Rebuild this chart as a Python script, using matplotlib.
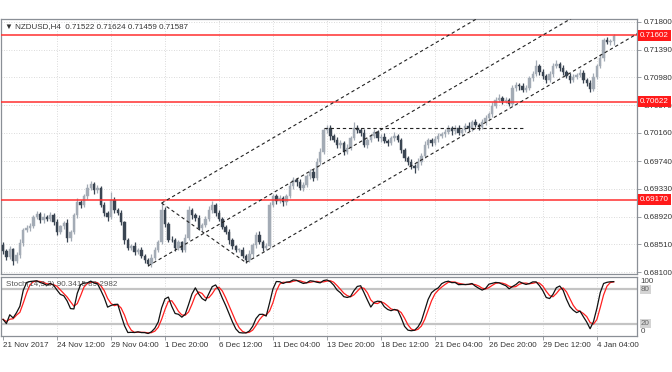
import numpy as np
import pandas as pd
import matplotlib
matplotlib.use("Agg")
import matplotlib.pyplot as plt
import matplotlib.transforms as mtransforms

plt.rcParams["font.family"] = ["Liberation Sans", "DejaVu Sans"]

# NZDUSD H4 closes (open = previous close)
closes = [
    0.6841, 0.6832, 0.6844, 0.6826, 0.6835, 0.6853, 0.6872, 0.6875, 0.6878, 0.6891,
    0.6896, 0.6887, 0.6892, 0.6889, 0.6895, 0.6884, 0.6869, 0.6878, 0.6882, 0.6860,
    0.6869, 0.6894, 0.6914, 0.6909, 0.6922, 0.6934, 0.6940, 0.6931, 0.6935, 0.6909,
    0.6897, 0.6891, 0.6917, 0.6902, 0.6897, 0.6884, 0.6857, 0.6846, 0.6849, 0.6840,
    0.6843, 0.6834, 0.6828, 0.6822, 0.6831, 0.6843, 0.6855, 0.6902, 0.6881, 0.6858,
    0.6857, 0.6846, 0.6854, 0.6843, 0.6860, 0.6902, 0.6894, 0.6890, 0.6875, 0.6880,
    0.6889, 0.6902, 0.6909, 0.6898, 0.6889, 0.6877, 0.6869, 0.6857, 0.6848, 0.6843,
    0.6843, 0.6834, 0.6828, 0.6837, 0.6850, 0.6865, 0.6855, 0.6846, 0.6849, 0.6909,
    0.6922, 0.6915, 0.6919, 0.6913, 0.6922, 0.6937, 0.6946, 0.6943, 0.6934, 0.6939,
    0.6952, 0.6958, 0.6949, 0.6973, 0.6988, 0.7020, 0.7023, 0.7011, 0.7005, 0.6998,
    0.7001, 0.6988, 0.6994, 0.7008, 0.7023, 0.7020, 0.7016, 0.6998, 0.7005, 0.7011,
    0.7017, 0.7008, 0.7010, 0.7004, 0.7001, 0.7008, 0.7011, 0.7005, 0.6991, 0.6979,
    0.6973, 0.6967, 0.6964, 0.6973, 0.6982, 0.6998, 0.7005, 0.7001, 0.7007, 0.7011,
    0.7014, 0.7017, 0.7023, 0.7018, 0.7023, 0.7016, 0.7020, 0.7026, 0.7023, 0.7032,
    0.7028, 0.7025, 0.7032, 0.7038, 0.7044, 0.7056, 0.7065, 0.7068, 0.7063, 0.7065,
    0.7059, 0.7082, 0.7087, 0.7085, 0.7080, 0.7083, 0.7097, 0.7103, 0.7115, 0.7106,
    0.7100, 0.7094, 0.7103, 0.7115, 0.7118, 0.7112, 0.7106, 0.7100, 0.7094, 0.7099,
    0.7102, 0.7105, 0.7094, 0.7090, 0.7081, 0.7099, 0.7115, 0.7127, 0.7153, 0.7150,
    0.71522, 0.71587,
]
first_open = 0.6850

# wick lengths in pips (above max(o,c) / below min(o,c))
upper_wick = [
    4, 3, 5, 2, 4, 6, 3, 4, 5, 3,
    4, 3, 5, 2, 4, 3, 5, 2, 4, 6,
    3, 4, 5, 3, 4, 6, 5, 3, 4, 2,
    5, 3, 11, 4, 3, 5, 2, 4, 3, 5,
    3, 4, 2, 3, 5, 4, 3, 10, 4, 3,
    5, 3, 4, 2, 6, 5, 3, 4, 5, 3,
    4, 5, 6, 3, 4, 2, 3, 4, 3, 2,
    3, 4, 2, 5, 3, 4, 6, 3, 4, 5,
    4, 3, 5, 4, 3, 6, 4, 3, 5, 4,
    3, 5, 4, 6, 5, 3, 5, 4, 3, 5,
    4, 3, 5, 4, 9, 4, 3, 5, 4, 3,
    5, 3, 4, 5, 3, 4, 6, 3, 4, 3,
    3, 4, 3, 5, 4, 6, 4, 3, 5, 4,
    3, 5, 4, 3, 5, 4, 3, 4, 6, 3,
    4, 3, 5, 4, 3, 5, 4, 6, 3, 4,
    3, 5, 4, 3, 5, 4, 3, 5, 9, 3,
    4, 3, 5, 4, 6, 3, 4, 3, 5, 4,
    3, 5, 4, 3, 4, 5, 3, 6, 4, 5,
    3, 3.7,
]
lower_wick = [
    5, 4, 3, 6, 3, 4, 5, 3, 4, 3,
    3, 5, 4, 3, 4, 5, 4, 3, 4, 5,
    4, 3, 4, 5, 3, 4, 3, 5, 4, 3,
    4, 5, 3, 4, 3, 4, 5, 4, 3, 5,
    4, 3, 5, 3, 4, 3, 4, 3, 5, 4,
    3, 5, 4, 3, 4, 3, 5, 4, 3, 4,
    4, 3, 4, 5, 3, 4, 3, 5, 4, 3,
    4, 3, 4, 3, 5, 4, 3, 5, 4, 3,
    3, 4, 3, 5, 4, 3, 4, 5, 3, 4,
    3, 4, 5, 3, 4, 3, 4, 5, 3, 4,
    4, 5, 3, 4, 3, 4, 5, 3, 4, 3,
    3, 4, 5, 3, 4, 3, 4, 3, 5, 4,
    4, 5, 7, 3, 4, 3, 5, 4, 3, 4,
    3, 4, 3, 5, 4, 3, 4, 3, 4, 5,
    4, 5, 3, 4, 3, 4, 3, 4, 5, 3,
    4, 3, 4, 5, 3, 4, 3, 4, 3, 5,
    4, 5, 3, 4, 3, 4, 5, 3, 4, 3,
    4, 3, 5, 4, 5, 3, 4, 3, 4, 3,
    4, 6.3,
]

price_ticks = [0.71800, 0.71390, 0.70980, 0.70570, 0.70160,
               0.69740, 0.69330, 0.68920, 0.68510, 0.68100]
levels = [0.71602, 0.70622, 0.69170]

time_pos = [0, 16, 32, 48, 64, 80, 96, 112, 128, 144, 160, 176]
time_labels = ["21 Nov 2017", "24 Nov 12:00", "29 Nov 04:00", "1 Dec 20:00",
               "6 Dec 12:00", "11 Dec 04:00", "13 Dec 20:00", "18 Dec 12:00",
               "21 Dec 04:00", "26 Dec 20:00", "29 Dec 12:00", "4 Jan 04:00"]

# channel drawing anchors (bar, price)
chan_slope = 0.000292
chan_anchors = [(47, 0.6912), (43, 0.6819), (72, 0.6824)]
hline_seg = (95, 154, 0.7023)

# --- build OHLC ---
c = np.array(closes)
o = np.concatenate([[first_open], c[:-1]])
h = np.maximum(o, c) + np.array(upper_wick) * 1e-4
l = np.minimum(o, c) - np.array(lower_wick) * 1e-4
n = len(c)
x = np.arange(n)

# stochastic 14,3,3
hh = pd.Series(h).rolling(14, min_periods=1).max()
ll = pd.Series(l).rolling(14, min_periods=1).min()
num = (pd.Series(c) - ll).rolling(3, min_periods=1).sum()
den = (hh - ll).rolling(3, min_periods=1).sum()
k = 100 * num / den
d = k.rolling(3, min_periods=1).mean()

W, H = 672, 372
fig = plt.figure(figsize=(W / 100, H / 100), dpi=100)
ax = fig.add_axes([1 / W, 1 - 274 / H, 636 / W, 255 / H])
ax2 = fig.add_axes([1 / W, 1 - 336 / H, 636 / W, 59 / H])

bull = "#a3abb5"
bear = "#3a4552"
grid_c = "#cfcfcf"
frame_c = "#8a8f96"
fs = 5.8

xmin, xmax = -0.6, 187.9
px_per = 6757.0
ymax = 0.718 + 3 / px_per
ymin = 0.681 - 2 / px_per

### main pane ###
for xi in time_pos[1:]:
    ax.axvline(xi, color=grid_c, lw=0.6, ls=(0, (1, 2)), zorder=0)
for p in price_ticks:
    ax.axhline(p, color=grid_c, lw=0.6, ls=(0, (1, 2)), zorder=0)

cols = np.where(c >= o, bull, bear)
ax.vlines(x, l, h, colors=cols, lw=0.9, zorder=2)
body_lo = np.minimum(o, c)
body_h = np.maximum(np.abs(c - o), 0.00004)
ax.bar(x, body_h, bottom=body_lo, width=0.72, color=cols, edgecolor=cols, lw=0.3, zorder=3)

for lv in levels:
    ax.axhline(lv, color="#ff3030", lw=1.3, alpha=0.85, zorder=4)

dash = (0, (3, 2.5))
for bx, py in chan_anchors:
    ax.plot([bx, xmax + 5], [py, py + chan_slope * (xmax + 5 - bx)], color="#222222", lw=0.8, ls=dash, zorder=5)
ax.plot([chan_anchors[0][0], chan_anchors[2][0]], [chan_anchors[0][1], chan_anchors[2][1]],
        color="#222222", lw=0.8, ls=dash, zorder=5)
ax.plot([hline_seg[0], hline_seg[1]], [hline_seg[2], hline_seg[2]], color="#222222", lw=0.8, ls=dash, zorder=5)

ax.set_xlim(xmin, xmax)
ax.set_ylim(ymin, ymax)
ax.yaxis.tick_right()
ax.set_yticks(price_ticks)
ax.set_yticklabels([f"{p:.5f}" for p in price_ticks])
ax.tick_params(axis="y", labelsize=fs, length=3, width=0.6, color=frame_c, labelcolor="#333333", pad=1.5)
ax.set_xticks([])
for s in ax.spines.values():
    s.set_color(frame_c)
    s.set_linewidth(0.9)

trans = mtransforms.blended_transform_factory(ax.transAxes, ax.transData)
for lv in levels:
    ax.text(1.0045, lv, f"{lv:.5f}", transform=trans, ha="left", va="center", fontsize=fs,
            color="white", zorder=10, clip_on=False,
            bbox=dict(boxstyle="square,pad=0.22", fc="#ff1a1a", ec="none"))

ax.text(4 / 636, 1 - 8 / 255, "\u25bc NZDUSD,H4  0.71522 0.71624 0.71459 0.71587", transform=ax.transAxes,
        ha="left", va="center", fontsize=fs, color="#333333")

### stochastic pane ###
for xi in time_pos[1:]:
    ax2.axvline(xi, color=grid_c, lw=0.6, ls=(0, (1, 2)), zorder=0)
ax2.axhline(80, color="#c4c4c4", lw=1.6, zorder=1)
ax2.axhline(20, color="#c4c4c4", lw=1.6, zorder=1)
ax2.plot(x, d, color="#ff2020", lw=0.9, zorder=3)
ax2.plot(x, k, color="#111111", lw=0.9, zorder=4)
ax2.set_xlim(xmin, xmax)
ax2.set_ylim(-1, 101)
ax2.set_yticks([])
ax2.set_xticks(time_pos)
ax2.set_xticklabels(time_labels, ha="left")
ax2.tick_params(axis="x", labelsize=fs, length=3, width=0.6, color=frame_c, labelcolor="#333333", pad=1)
for s in ax2.spines.values():
    s.set_color(frame_c)
    s.set_linewidth(0.9)

ax2.text(0.008, 0.88, "Stoch(14,3,3) 90.3415 89.2982", transform=ax2.transAxes, ha="left", va="center",
         fontsize=fs, color="#555555")
trans2 = mtransforms.blended_transform_factory(ax2.transAxes, ax2.transData)
ax2.text(1.006, 100, "100", transform=trans2, ha="left", va="top", fontsize=fs, color="#444444", clip_on=False)
ax2.text(1.006, 0, "0", transform=trans2, ha="left", va="bottom", fontsize=fs, color="#444444", clip_on=False)
for lv in (80, 20):
    ax2.text(1.006, lv, str(lv), transform=trans2, ha="left", va="center", fontsize=fs, color="#666666",
             clip_on=False, bbox=dict(boxstyle="square,pad=0.12", fc="#d4d4d4", ec="none"))

fig.savefig("out.png", dpi=100)
